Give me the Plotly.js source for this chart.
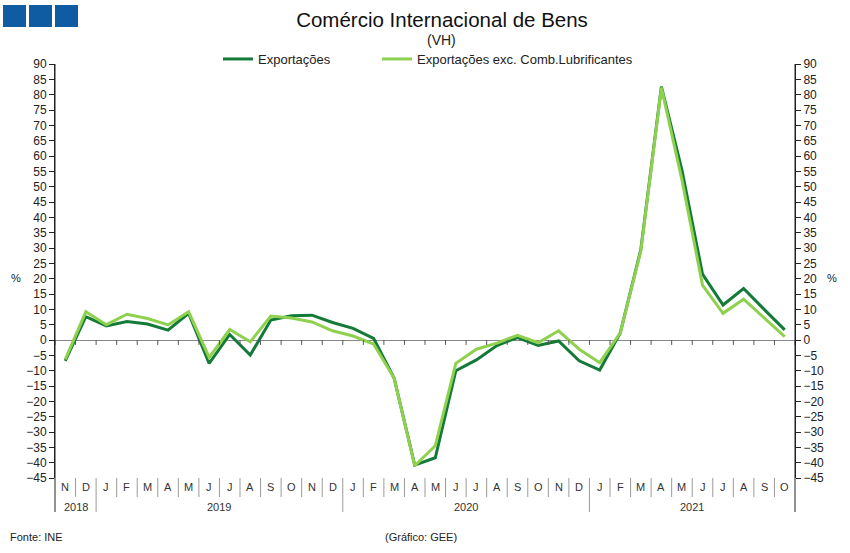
<!DOCTYPE html>
<html>
<head>
<meta charset="utf-8">
<script src="https://cdn.plot.ly/plotly-3.0.1.min.js"></script>
<style>
html,body{margin:0;padding:0;background:#fff;}
#chart{width:850px;height:553px;position:relative;}
.logo{position:absolute;top:5px;width:23px;height:22px;background:#0F5CA3;z-index:10;}
</style>
</head>
<body>
<div id="chart"></div>
<div class="logo" style="left:3px"></div>
<div class="logo" style="left:29px"></div>
<div class="logo" style="left:55px"></div>
<script>
// Categories: Nov 2018 – Oct 2021
const months = ['N','D','J','F','M','A','M','J','J','A','S','O','N','D',
                'J','F','M','A','M','J','J','A','S','O','N','D',
                'J','F','M','A','M','J','J','A','S','O'];
const years = ['2018','2019','2020','2021'];
const yearCounts = [2, 12, 12, 10];

// Exportações (VH, %)
const exportacoes = [-6.8, 7.6, 4.6, 6.0, 5.2, 3.2, 8.7, -7.6, 1.8, -4.9, 6.5, 7.9, 8.1, 5.7,
                     3.8, 0.5, -12.5, -40.8, -38.4, -10.0, -6.5, -1.8, 0.8, -1.8, -0.3, -6.8,
                     -9.8, 2.3, 29.5, 82.6, 55.4, 21.5, 11.4, 16.8, 10.0, 3.3];
// Exportações exc. Comb.Lubrificantes (VH, %)
const exportacoesExc = [-6.3, 9.2, 5.0, 8.4, 7.0, 4.9, 9.2, -5.7, 3.4, -0.6, 7.8, 7.2, 5.9, 3.0,
                        1.3, -1.3, -12.5, -41.0, -34.5, -7.6, -3.0, -1.0, 1.5, -0.9, 3.0, -3.0,
                        -7.4, 2.3, 29.0, 82.3, 52.2, 17.9, 8.7, 13.3, 7.2, 1.1];

const idx = months.map((m, i) => i);
const FONT = 'Liberation Sans, Arial, sans-serif';
const W = 850, H = 553, ML = 55, MR = 55, MT = 64, MB = 75;
const plotW = W - ML - MR, plotH = H - MT - MB;
const px2x = px => (px - ML) / plotW;
const px2y = py => (H - MB - py) / plotH;

const shapes = [];
const annotations = [];

// zero-line ticks at category boundaries
for (let i = 0; i <= months.length; i++) {
  shapes.push({type:'line', xref:'x', yref:'y', x0:i-0.5, x1:i-0.5, y0:0, y1:-1.6,
               line:{color:'#555', width:1}});
}
// month separators & year boundaries below plot
const yearStarts = [0];
yearCounts.forEach((c, k) => yearStarts.push(yearStarts[k] + c));
for (let i = 1; i < months.length; i++) {
  const isYear = yearStarts.includes(i);
  shapes.push({type:'line', xref:'x', yref:'paper', x0:i-0.5, x1:i-0.5,
               y0:0, y1: isYear ? -34/plotH : -19/plotH,
               line:{color:'#9a9a9a', width:1}});
}
// extended axis lines
shapes.push({type:'line', xref:'paper', yref:'paper', x0:0, x1:0, y0:-34/plotH, y1:1, line:{color:'#222', width:1}});
shapes.push({type:'line', xref:'paper', yref:'paper', x0:1, x1:1, y0:-34/plotH, y1:1, line:{color:'#222', width:1}});

// month labels
months.forEach((m, i) => {
  annotations.push({x:i, y:0, xref:'x', yref:'paper', yshift:-9, text:m, showarrow:false,
                    yanchor:'middle', font:{family:FONT, size:11, color:'#333'}});
});
// year labels
years.forEach((y, k) => {
  const c = (yearStarts[k] + yearStarts[k+1] - 1) / 2;
  annotations.push({x:c, y:0, xref:'x', yref:'paper', yshift:-29, text:y, showarrow:false,
                    yanchor:'middle', font:{family:FONT, size:11, color:'#333'}});
});
// subtitle, % labels, footer
function note(text, px, py, xanchor, size) {
  annotations.push({x:px2x(px), y:px2y(py), xref:'paper', yref:'paper', xanchor:xanchor, yanchor:'middle',
                    text:text, showarrow:false, font:{family:FONT, size:size, color:'#222'}});
}
note('(VH)', 441, 40, 'center', 14);
note('%', 16, 278, 'center', 11);
note('%', 832, 278, 'center', 11);
note('Fonte: INE', 8, 537, 'left', 11);
note('(Gráfico: GEE)', 421, 537, 'center', 11);

const tickvals = [];
for (let v = -45; v <= 90; v += 5) tickvals.push(v);

const traces = [
  {x: idx, y: exportacoes, type:'scatter', mode:'lines', name:'Exportações',
   line:{color:'#137A37', width:3}, legend:'legend'},
  {x: idx, y: exportacoesExc, type:'scatter', mode:'lines', name:'Exportações exc. Comb.Lubrificantes',
   line:{color:'#8FD14F', width:3}, legend:'legend2'},
  {x: [], y: [], yaxis:'y2', showlegend:false, hoverinfo:'skip'}
];

const legendBase = {orientation:'h', xanchor:'left', y:px2y(59), yanchor:'middle',
          font:{family:FONT, size:13, color:'#222'}, bgcolor:'rgba(0,0,0,0)',
          itemwidth:30, borderwidth:0};

const layout = {
  width:W, height:H,
  margin:{l:ML, r:MR, t:MT, b:MB},
  paper_bgcolor:'#fff', plot_bgcolor:'#fff',
  font:{family:FONT, color:'#222'},
  title:{text:'Comércio Internacional de Bens', x:442/W, xanchor:'center', y:1-20/H, yanchor:'middle',
         xref:'container', yref:'container', font:{family:FONT, size:20.5, color:'#111'}},
  showlegend:true,
  legend:Object.assign({}, legendBase, {x:px2x(218)}),
  legend2:Object.assign({}, legendBase, {x:px2x(377)}),
  xaxis:{range:[-0.5, months.length-0.5], showgrid:false, zeroline:false, showline:false,
         showticklabels:false, ticks:'', fixedrange:true},
  yaxis:{range:[-45, 90], tickvals:tickvals, showgrid:false, zeroline:true, zerolinecolor:'#888',
         zerolinewidth:1, showline:true, linecolor:'#222', linewidth:1, ticks:'outside', ticklen:5,
         tickcolor:'#222', tickfont:{family:FONT, size:12, color:'#222'}},
  yaxis2:{range:[-45, 90], tickvals:tickvals, overlaying:'y', side:'right', showgrid:false, zeroline:false,
         showline:true, linecolor:'#222', linewidth:1, ticks:'outside', ticklen:5, tickcolor:'#222',
         tickfont:{family:FONT, size:12, color:'#222'}},
  shapes:shapes,
  annotations:annotations
};

Plotly.newPlot('chart', traces, layout, {displayModeBar:false, staticPlot:true});
</script>
</body>
</html>
